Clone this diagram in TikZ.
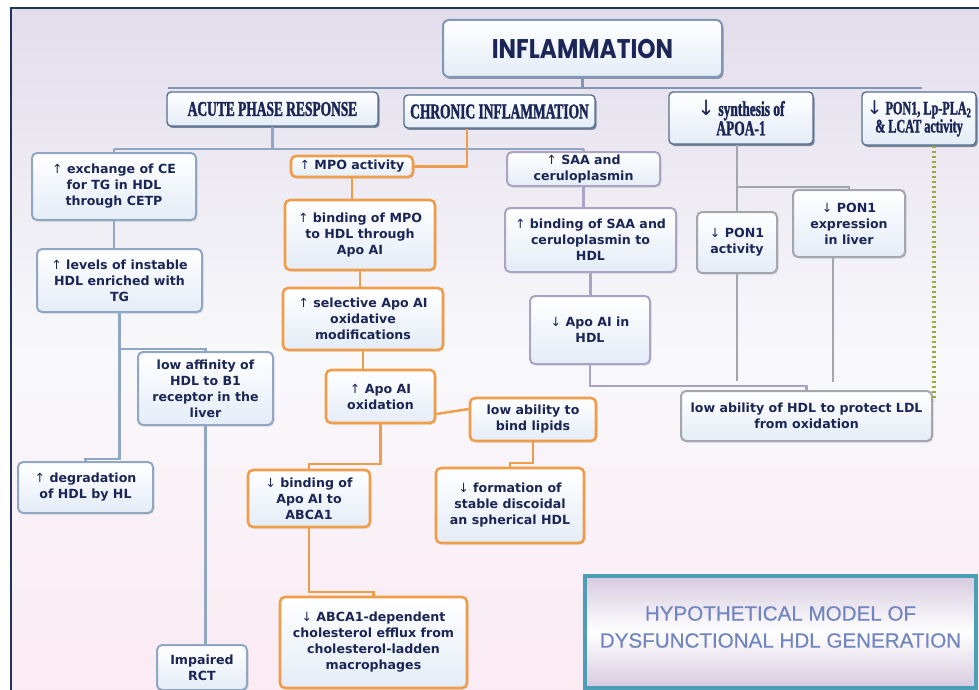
\documentclass[tikz,border=0pt]{standalone}
\usepackage{fontspec}
\setmainfont{DejaVu Sans}
\newfontfamily\arrowfont{DejaVu Sans}
\newfontfamily\condfont[FakeStretch=0.64,FakeBold=1.6]{Liberation Serif Bold}
\newfontfamily\inflfont[FakeStretch=0.86]{Poppins}
\newfontfamily\capfont[FakeBold=0.5]{Liberation Sans}
\usetikzlibrary{shadows,calc}
\newcommand\myup{{\arrowfont\mdseries ↑}}
\newcommand\mydn{{\arrowfont\mdseries ↓}}
\definecolor{navytext}{HTML}{1B2656}
\definecolor{bluebd}{HTML}{8FA7C2}
\definecolor{orangebd}{HTML}{EE9D4A}
\definecolor{purplebd}{HTML}{ABA3C4}
\definecolor{graybd}{HTML}{A3A6AD}
\definecolor{boxfill}{HTML}{E4ECF6}
\definecolor{bgtop}{HTML}{E3DDEB}
\definecolor{bgmid}{HTML}{F8F8FB}
\definecolor{bgbot}{HTML}{FBEAF3}
\definecolor{framec}{HTML}{1E3557}
\definecolor{hdrbd}{HTML}{54708F}
\definecolor{busc}{HTML}{7F97B5}
\definecolor{dotc}{HTML}{98AB3A}
\definecolor{tealbd}{HTML}{4B9EB6}
\definecolor{titletext}{HTML}{7185BF}
\definecolor{titlefill}{HTML}{D6CADF}
\tikzset{
  sz/.style 2 args={minimum width=#1pt, minimum height=#2pt},
  shad/.style={drop shadow={opacity=0.2, shadow xshift=1.5pt, shadow yshift=-1.5pt}},
  box/.style={rounded corners=5pt, inner sep=0pt, align=center, text=navytext,
    font=\bfseries\fontsize{12.6}{16}\selectfont, top color=white, bottom color=boxfill,
    shad, line width=2pt},
  bbox/.style={box, draw=bluebd},
  obox/.style={box, draw=orangebd, line width=2.6pt},
  pbox/.style={box, draw=purplebd},
  gbox/.style={box, draw=graybd},
  hdr/.style={rounded corners=4pt, inner sep=0pt, align=center, draw=hdrbd, line width=1.4pt,
    top color=white, bottom color=boxfill, text=navytext,
    drop shadow={opacity=0.55, shadow xshift=1.5pt, shadow yshift=-2pt, fill=framec},
    font=\condfont\fontsize{21}{18}\selectfont},
  bl/.style={draw=bluebd, line width=2.4pt},
  ol/.style={draw=orangebd, line width=2.4pt},
  pl/.style={draw=purplebd, line width=2.4pt},
  gl/.style={draw=graybd, line width=2.4pt},
  busl/.style={draw=busc, line width=2.6pt},
}
\begin{document}
\begin{tikzpicture}[x=1pt,y=-1pt]
\useasboundingbox (0,0) rectangle (979,690);
\fill[white] (0,0) rectangle (979,690);
\fill[top color=bgtop, bottom color=bgbot, middle color=bgmid] (11,8) rectangle (990,700);
\draw[framec, line width=2pt] (11,8) rectangle (990,700);

% top level
\node[rounded corners=6pt, draw=busc, line width=2pt, top color=white, bottom color=boxfill,
  drop shadow={opacity=0.45, shadow xshift=1.5pt, shadow yshift=-2pt, fill=framec},
  sz={279}{57}, text=navytext, font=\inflfont\bfseries\fontsize{27}{30}\selectfont]
  (infl) at (582.5,48.5) {INFLAMMATION};
\node[hdr, sz={211}{34}] (acute) at (272.5,109) {ACUTE PHASE RESPONSE};
\node[hdr, sz={191}{33}] (chron) at (499.5,111.5) {CHRONIC INFLAMMATION};
\node[hdr, sz={144}{52}] (synth) at (741,118) {\mydn\ synthesis of\\APOA-1};
\node[hdr, sz={114}{53}, font=\condfont\fontsize{19}{18}\selectfont] (ponlp) at (919,118.5) {\mydn\ PON1, Lp-PLA\textsubscript{2}\\\& LCAT activity};

% left column
\node[bbox, sz={164}{67}] (exch) at (114,186.5) {\myup\ exchange of CE\\for TG in HDL\\through CETP};
\node[bbox, sz={165}{63}] (lev) at (119.5,280.5) {\myup\ levels of instable\\HDL enriched with\\TG};
\node[bbox, sz={135}{73}] (aff) at (205.5,388.5) {low affinity of\\HDL to B1\\receptor in the\\liver};
\node[bbox, sz={135}{51}] (degr) at (85.5,487.5) {\myup\ degradation\\of HDL by HL};
\node[bbox, sz={90}{45}] (imp) at (202,667.5) {Impaired\\RCT};

% middle column
\node[obox, sz={122}{21}] (mpo) at (352,166.5) {\myup\ MPO activity};
\node[obox, sz={150}{70}] (bmpo) at (360,235) {\myup\ binding of MPO\\to HDL through\\Apo AI};
\node[obox, sz={160}{62}] (sel) at (363,319) {\myup\ selective Apo AI\\oxidative\\modifications};
\node[obox, sz={109}{53}] (ox) at (380.5,396.5) {\myup\ Apo AI\\oxidation};
\node[obox, sz={126}{43}] (lowb) at (533,419.5) {low ability to\\bind lipids};
\node[obox, sz={122}{57}] (babca) at (309,498.5) {\mydn\ binding of\\Apo AI to\\ABCA1};
\node[obox, sz={148}{75}] (form) at (510,505.5) {\mydn\ formation of\\stable discoidal\\an spherical HDL};
\node[obox, sz={187}{91}] (abca) at (373.5,642.5) {\mydn\ ABCA1-dependent\\cholesterol efflux from\\cholesterol-ladden\\macrophages};

% SAA column
\node[pbox, sz={153}{34}] (saa) at (583.5,169) {\myup\ SAA and\\ceruloplasmin};
\node[pbox, sz={171}{64}] (bsaa) at (590.5,240) {\myup\ binding of SAA and\\ceruloplasmin to\\HDL};
\node[pbox, sz={120}{68}] (aihdl) at (590,330) {\mydn\ Apo AI in\\HDL};

% right column
\node[gbox, sz={80}{61}] (pact) at (737,242.5) {\mydn\ PON1\\activity};
\node[gbox, sz={112}{67}] (pexp) at (849,223.5) {\mydn\ PON1\\expression\\in liver};
\node[gbox, sz={251}{50}] (lowp) at (806.5,416) {low ability of HDL to protect LDL\\from oxidation};

% title box
\node[draw=tealbd, line width=4pt, top color=titlefill, bottom color=titlefill, middle color=white,
  sz={391}{112}, drop shadow={opacity=0.3, shadow xshift=1.5pt, shadow yshift=-2pt}] (title) at (780.5,632) {};
\node[align=center, text=titletext, font=\capfont\fontsize{20.6}{27}\selectfont] (titletxt) at (780.5,627)
  {HYPOTHETICAL MODEL OF\\DYSFUNCTIONAL HDL GENERATION};

% ---- connectors ----
\coordinate (busL) at (168,88);
\coordinate (busR) at (922,88);
\draw[busl] (infl.south) -- (infl.south |- busL);
\draw[busl] (busL) -- (busR);

\coordinate (ab) at (0,149);
\draw[bl] (acute.south) -- (acute.south |- ab);
\draw[bl] (exch.north |- ab) -- (saa.north |- ab);
\draw[bl] (exch.north |- ab) -- (exch.north);
\draw[pl] (saa.north |- ab) -- (saa.north);
\draw[ol] ($(chron.south)+(-32.5,0)$) |- (mpo.east);

\draw[bl] (exch.south) -- (exch.south |- lev.north);
\coordinate (lb) at (0,349);
\coordinate (dg) at (0,459);
\draw[bl] (lev.south) -- (lev.south |- dg) -| (degr.north);
\draw[bl] (lev.south |- lb) -| (aff.north);
\draw[bl] (aff.south) -- (aff.south |- imp.north);

\draw[ol] (mpo.south) -- (mpo.south |- bmpo.north);
\draw[ol] (bmpo.south) -- (bmpo.south |- sel.north);
\draw[ol] (sel.south) -- (sel.south |- ox.north);
\draw[ol] (ox.east |- 0,414) -- (lowb.west |- 0,409);
\coordinate (oy) at (0,464);
\draw[ol] (ox.south) -- (ox.south |- oy) -| (babca.north);
\coordinate (oy2) at (0,592);
\draw[ol] (babca.south) -- (babca.south |- oy2) -| (abca.north);
\coordinate (oy3) at (0,463);
\draw[ol] (lowb.south) -- (lowb.south |- oy3) -| (form.north);

\draw[pl] (saa.south) -- (saa.south |- bsaa.north);
\draw[pl] (bsaa.south) -- (bsaa.south |- aihdl.north);
\coordinate (py) at (0,386);
\draw[pl] (aihdl.south) -- (aihdl.south |- py) -| (lowp.north);

\draw[gl] (pact.north |- synth.south) -- (pact.north);
\coordinate (gy) at (0,187);
\draw[gl] (pact.north |- gy) -| (pexp.north);
\coordinate (gy2) at (0,381);
\draw[gl] (pact.south) -- (pact.south |- gy2);
\draw[gl] ($(pexp.south)+(-16,0)$) -- ++(0,124);

\draw[dotc, line width=3.5pt, dash pattern=on 2.5pt off 2.5pt] ($(ponlp.south)+(15,0)$) -- ++(0,255);
\end{tikzpicture}
\end{document}
